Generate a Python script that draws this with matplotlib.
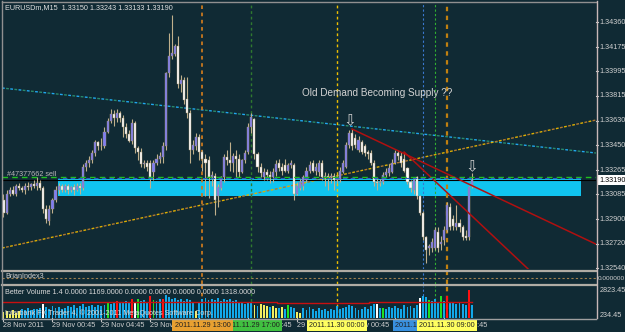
import numpy as np
import matplotlib
matplotlib.use('Agg')
import matplotlib.pyplot as plt
from matplotlib.patches import Rectangle
from matplotlib.lines import Line2D
from matplotlib.transforms import blended_transform_factory as blend

plt.rcParams['font.family'] = ['Liberation Sans', 'DejaVu Sans']

# EURUSDm M15, bar 0 = 28 Nov 2011 20:45
opens = [1.3304, 1.3295, 1.3309, 1.3312, 1.3309, 1.3315, 1.3313, 1.3312, 1.3315, 1.3314,
         1.3316, 1.3315, 1.3317, 1.3313, 1.3298, 1.3289, 1.3298, 1.3304, 1.3312, 1.3315,
         1.3312, 1.3315, 1.3312, 1.3314, 1.3312, 1.3315, 1.3313, 1.3329, 1.3332, 1.3334,
         1.3339, 1.3347, 1.3344, 1.3344, 1.3355, 1.3363, 1.3368, 1.3365, 1.3369, 1.3365,
         1.3358, 1.3353, 1.3348, 1.3361, 1.3343, 1.3340, 1.3331, 1.3332, 1.3332, 1.3325,
         1.3332, 1.3335, 1.3336, 1.3344, 1.3398, 1.3411, 1.3412, 1.3418, 1.3390, 1.3393,
         1.3379, 1.3369, 1.3341, 1.3344, 1.3351, 1.3340, 1.3335, 1.3334, 1.3321, 1.3322,
         1.3307, 1.3313, 1.3321, 1.3336, 1.3334, 1.3332, 1.3337, 1.3335, 1.3325, 1.3334,
         1.3340, 1.3358, 1.3364, 1.3338, 1.3329, 1.3321, 1.3325, 1.3323, 1.3321, 1.3325,
         1.3332, 1.3329, 1.3330, 1.3326, 1.3330, 1.3330, 1.3309, 1.3313, 1.3315, 1.3319,
         1.3326, 1.3332, 1.3326, 1.3325, 1.3332, 1.3321, 1.3322, 1.3321, 1.3322, 1.3319,
         1.3319, 1.3325, 1.3329, 1.3345, 1.3354, 1.3350, 1.3341, 1.3347, 1.3344, 1.3340,
         1.3339, 1.3332, 1.3318, 1.3317, 1.3318, 1.3323, 1.3324, 1.3325, 1.3332, 1.3339,
         1.3337, 1.3335, 1.3328, 1.3318, 1.3312, 1.3321, 1.3307, 1.3295, 1.3277, 1.3269,
         1.3269, 1.3269, 1.3281, 1.3272, 1.3275, 1.3282, 1.3299, 1.3290, 1.3284, 1.3287,
         1.3284, 1.3278, 1.3277, 1.33150]
highs = [1.3309, 1.3312, 1.3314, 1.3315, 1.3316, 1.3317, 1.3315, 1.3317, 1.3318, 1.3317,
         1.3319, 1.3321, 1.3319, 1.3315, 1.3301, 1.3301, 1.3306, 1.3315, 1.3317, 1.3316,
         1.3316, 1.3316, 1.3315, 1.3316, 1.3317, 1.3317, 1.3331, 1.3334, 1.3337, 1.3341,
         1.3349, 1.3348, 1.3350, 1.3358, 1.3365, 1.3372, 1.3371, 1.3372, 1.3370, 1.3367,
         1.3361, 1.3356, 1.3364, 1.3363, 1.3344, 1.3343, 1.3334, 1.3334, 1.3334, 1.3334,
         1.3338, 1.3340, 1.3347, 1.3399, 1.3428, 1.3441, 1.3420, 1.3426, 1.3397, 1.3395,
         1.3395, 1.3371, 1.3349, 1.3354, 1.3353, 1.3341, 1.3338, 1.3337, 1.3326, 1.3324,
         1.3316, 1.3322, 1.3338, 1.3341, 1.3347, 1.3339, 1.3341, 1.3338, 1.3335, 1.3341,
         1.3361, 1.3369, 1.3365, 1.3340, 1.3332, 1.3328, 1.3327, 1.3326, 1.3328, 1.3334,
         1.3335, 1.3332, 1.3335, 1.3332, 1.3334, 1.3332, 1.3318, 1.3320, 1.3323, 1.3329,
         1.3333, 1.3334, 1.3332, 1.3334, 1.3334, 1.3325, 1.3324, 1.3324, 1.3324, 1.3323,
         1.3329, 1.3334, 1.3347, 1.3356, 1.3357, 1.3353, 1.3352, 1.3349, 1.3346, 1.3341,
         1.3341, 1.3334, 1.3321, 1.3320, 1.3325, 1.3328, 1.3331, 1.3335, 1.3341, 1.3341,
         1.3340, 1.3340, 1.3329, 1.3319, 1.3321, 1.3322, 1.3308, 1.3296, 1.3278, 1.3272,
         1.3276, 1.3284, 1.3284, 1.3278, 1.3285, 1.3303, 1.3302, 1.3293, 1.3301, 1.3290,
         1.3286, 1.3282, 1.3315, 1.33243]
lows = [1.3292, 1.3294, 1.3307, 1.3308, 1.3307, 1.3312, 1.3310, 1.3309, 1.3312, 1.3312,
        1.3313, 1.3312, 1.3312, 1.3295, 1.3287, 1.3286, 1.3295, 1.3303, 1.3309, 1.3310,
        1.3310, 1.3309, 1.3310, 1.3308, 1.3311, 1.3309, 1.3312, 1.3326, 1.3329, 1.3332,
        1.3337, 1.3341, 1.3341, 1.3343, 1.3354, 1.3361, 1.3359, 1.3362, 1.3362, 1.3351,
        1.3350, 1.3347, 1.3346, 1.3339, 1.3334, 1.3329, 1.3328, 1.3326, 1.3313, 1.3319,
        1.3330, 1.3332, 1.3332, 1.3341, 1.3395, 1.3409, 1.3411, 1.3387, 1.3384, 1.3375,
        1.3365, 1.3332, 1.3338, 1.3341, 1.3334, 1.3326, 1.3307, 1.3306, 1.3315, 1.3293,
        1.3299, 1.3312, 1.3318, 1.3330, 1.3326, 1.3325, 1.3321, 1.3321, 1.3324, 1.3332,
        1.3338, 1.3354, 1.3335, 1.3325, 1.3321, 1.3319, 1.3319, 1.3317, 1.3318, 1.3322,
        1.3326, 1.3323, 1.3325, 1.3324, 1.3328, 1.3304, 1.3308, 1.3312, 1.3312, 1.3318,
        1.3324, 1.3325, 1.3323, 1.3322, 1.3319, 1.3315, 1.3312, 1.3317, 1.3312, 1.3317,
        1.3318, 1.3324, 1.3328, 1.3343, 1.3341, 1.3343, 1.3340, 1.3338, 1.3337, 1.3335,
        1.3330, 1.3315, 1.3312, 1.3315, 1.3316, 1.3321, 1.3322, 1.3324, 1.3331, 1.3334,
        1.3329, 1.3325, 1.3316, 1.3310, 1.3309, 1.3305, 1.3293, 1.3275, 1.3258, 1.3264,
        1.3266, 1.3267, 1.3266, 1.3267, 1.3271, 1.3281, 1.3282, 1.3282, 1.3282, 1.3281,
        1.3275, 1.3275, 1.3275, 1.33133]
closes = [1.3295, 1.3309, 1.3312, 1.3309, 1.3315, 1.3313, 1.3312, 1.3315, 1.3314, 1.3316,
          1.3315, 1.3317, 1.3313, 1.3298, 1.3290, 1.3298, 1.3304, 1.3312, 1.3315, 1.3312,
          1.3315, 1.3312, 1.3314, 1.3312, 1.3315, 1.3313, 1.3329, 1.3332, 1.3334, 1.3339,
          1.3347, 1.3344, 1.3344, 1.3355, 1.3363, 1.3368, 1.3365, 1.3369, 1.3365, 1.3358,
          1.3353, 1.3348, 1.3361, 1.3343, 1.3340, 1.3331, 1.3332, 1.3329, 1.3321, 1.3332,
          1.3335, 1.3337, 1.3344, 1.3398, 1.3411, 1.3413, 1.3418, 1.3390, 1.3393, 1.3378,
          1.3369, 1.3341, 1.3345, 1.3351, 1.3340, 1.3335, 1.3332, 1.3321, 1.3323, 1.3304,
          1.3314, 1.3321, 1.3336, 1.3334, 1.3332, 1.3337, 1.3335, 1.3325, 1.3334, 1.3339,
          1.3358, 1.3366, 1.3338, 1.3329, 1.3324, 1.3325, 1.3323, 1.3321, 1.3325, 1.3331,
          1.3328, 1.3326, 1.3326, 1.3330, 1.3332, 1.3309, 1.3315, 1.3318, 1.3321, 1.3326,
          1.3330, 1.3326, 1.3329, 1.3332, 1.3321, 1.3322, 1.3321, 1.3322, 1.3319, 1.3321,
          1.3326, 1.3332, 1.3345, 1.3354, 1.3344, 1.3345, 1.3349, 1.3340, 1.3339, 1.3338,
          1.3332, 1.3318, 1.3317, 1.3318, 1.3323, 1.3325, 1.3328, 1.3332, 1.3339, 1.3337,
          1.3332, 1.3326, 1.3318, 1.3313, 1.3319, 1.3307, 1.3295, 1.3277, 1.3267, 1.3270,
          1.3273, 1.3282, 1.3269, 1.3273, 1.3282, 1.3301, 1.3284, 1.3285, 1.3287, 1.3284,
          1.3277, 1.3276, 1.3314, 1.33190]

# Better Volume 1.4 values and bar type (y=low, b=normal, w=climax up, r=climax, g=churn)
volumes = [600, 700, 450, 800, 550, 700, 900, 850, 1000, 800, 900, 950, 1000, 1450,
           1100, 950, 1200, 1000, 1150, 900, 1050, 1250, 1100, 1300, 1000, 1200, 1400, 1150,
           1250, 1300, 1100, 1350, 1200, 1300, 1500, 1400, 1600, 1750, 1550, 1500, 1700, 1600,
           1900, 1500, 1950, 1700, 1850, 1650, 2200, 1800, 1750, 1900, 1950,
           2300, 2100, 1900, 2000, 1850, 1950, 1750, 1900, 1800, 1500, 700, 1600,
           1900, 2000, 1800, 1950, 1850, 2050, 1700, 1900, 1800, 1950, 1700, 1800, 1500, 1600,
           1400, 1650, 1500, 1350, 1200, 1400, 1300, 1250, 1100, 1200, 1050, 1000, 1150, 900,
           1300, 1100, 1000, 600, 500,
           1000, 800, 1100, 900, 750, 1050, 850, 950, 700, 900, 800, 1200, 900, 1000, 1100,
           1300, 1250, 1000, 850, 950, 1150, 900, 1250, 1400, 1400, 1000, 1000,
           900, 1100, 1000, 1200, 1050, 950, 1300, 1100, 1250, 1000, 1350,
           2000, 2200, 2100, 1800, 1700, 1900, 1600, 2200, 1700, 2200,
           1500, 1600, 1400, 1500, 1450, 1350, 2823, 1350]
vol_kind = ('yyyyyy' + 'bbbbbbb' + 'w' + 'b' * 20 + 'g' + 'bb' + 'r' + 'bbbb' + 'r' + 'w' + 'g'
            + 'bbb' + 'r' + 'g' + 'bb' + 'r' + 'b' * 9 + 'byb' + 'b' * 17 + 'ybyyybyybyb' + 'g'
            + 'bb' + 'yy' + 'b' * 24 + 'w' + 'b' + 'g' + 'b' * 11 + 'w' + 'bb' + 'g' + 'bbb'
            + 'g' + 'b' + 'r' + 'b' * 6 + 'r' + 'b')
vol_avg = [1650] * 40 + [1600] * 50 + [1560] * 30 + [1610] * 34

price_ticks = [1.34360, 1.34175, 1.33995, 1.33815, 1.33630, 1.33450,
               1.33265, 1.33085, 1.32900, 1.32720, 1.32540]
time_labels = ['28 Nov 2011', '29 Nov 00:45', '29 Nov 04:45', '29 Nov 08:45', '29 Nov 12:45',
               '29 Nov 16:45', '29 Nov 20:45', '30 Nov 00:45', '30 Nov 04:45', '30 Nov 08:45']
time_label_bars = [0, 16, 32, 48, 64, 80, 96, 112, 128, 144]

# vertical lines: bar, label, line colour, label colour, width (list order = draw order)
vline_bars = [81, 65, 109, 141, 137, 145]
vline_labels = ['2011.11.29 17:00', '2011.11.29 13:00', '2011.11.30 00:00',
                '2011.11.30 08:00', '2011.11.30 07:00', '2011.11.30 09:00']
vline_colors = ['#2f7a2f', '#c8781e', '#f0c000', '#30b030', '#3a78d0', '#c08010']
vline_box = ['#40c040', '#e8a030', '#ffff60', '#40c040', '#3890e0', '#ffff60']
vline_width = [1.0, 1.3, 1.0, 0.8, 0.8, 1.6]

# drawn objects (bar index, price)
cyan_line = ([-0.5, 193.6], [1.33872, 1.33391])
gold_line = ([-0.5, 193.6], [1.32688, 1.33635])
red_line1 = ([113.9, 193.6], [1.33568, 1.32717])
red_line2 = ([130.9, 180.0], [1.33398, 1.32350])
zone_bars = [17.8, 188.7]
zone_prices = [1.3307, 1.3320]
order_price = 1.33213
bid_price = 1.33190
arrow_bars = [113, 153]
arrow_prices = [1.3363, 1.3329]
note_pos = (97.5, 1.33835)

BG = '#102a34'
FS = 5.2
W, H = 625, 332
fig = plt.figure(figsize=(W / 100, H / 100), dpi=100)
fig.patch.set_facecolor(BG)


def axes_px(x0, y0, x1, y1):
    a = fig.add_axes([x0 / W, 1 - y1 / H, (x1 - x0) / W, (y1 - y0) / H])
    a.set_facecolor(BG)
    a.set_xticks([])
    a.set_yticks([])
    for s in a.spines.values():
        s.set_visible(False)
    a.set_xlim(-0.49, 193.6)
    return a


ax = axes_px(2, 2, 596, 269)
ax.set_ylim(1.32533, 1.34508)
ax_bi = axes_px(2, 272, 596, 284)
ax_bi.set_ylim(-1, 1)
ax_vol = axes_px(2, 286, 596, 318)
ax_vol.set_ylim(0, 3227)

idx = np.arange(len(closes))
o = np.array(opens)
c = np.array(closes)

# supply/demand zone
ax.add_patch(Rectangle((zone_bars[0], zone_prices[0]), zone_bars[1] - zone_bars[0],
                       zone_prices[1] - zone_prices[0], color='#10c4f0', lw=0, zorder=1))

# candles
ax.vlines(idx, lows, highs, color='#c0b08c', lw=0.8, zorder=3)
ax.bar(idx, np.maximum(np.abs(c - o), 0.00004), bottom=np.minimum(o, c), width=0.68,
       color=np.where(c >= o, '#7c7cf4', '#ffffff'), edgecolor='#a89470', linewidth=0.3, zorder=4)

# lines on the price chart
ax.plot(*cyan_line, color='#20a8f0', lw=1, ls=(0, (2, 4)), zorder=2)
ax.plot(*cyan_line, color='#2a8a6a', lw=1, ls=(3, (2, 4)), zorder=2)
ax.plot(*gold_line, color='#e0b000', lw=1, ls=(0, (2, 4)), zorder=2)
ax.plot(*gold_line, color='#b07830', lw=1, ls=(3, (2, 4)), zorder=2)
ax.plot(*red_line1, color='#b01010', lw=1.1, zorder=5)
ax.plot(*red_line2, color='#b01010', lw=1.1, zorder=5)
ax.axhline(order_price, color='#20c020', lw=1, ls=(0, (4, 3)), zorder=5)
ax.plot(zone_bars, [zone_prices[1] + 0.00003] * 2, color='#2a60c0', lw=0.8, ls=(3, (4, 3)), zorder=5)
ax.axhline(bid_price, color='black', lw=0.8, zorder=2)

for b, p in zip(arrow_bars, arrow_prices):
    ax.text(b, p, '\u21e9', ha='center', va='center', fontsize=11, color='#d0d0d0',
            family='DejaVu Sans', zorder=6)
ax.text(*note_pos, 'Old Demand Becoming Supply ??', fontsize=7.2, color='#d4d4d4',
        va='center', zorder=6)

# vertical lines through all windows
for b, col, lw in zip(vline_bars, vline_colors, vline_width):
    for a in (ax, ax_bi, ax_vol):
        a.axvline(b, color=col, lw=lw, ls=(0, (2, 2)), zorder=2)

# price scale
tr = blend(ax.transAxes, ax.transData)
for p in price_ticks:
    ax.plot([1, 1 + 2 / 594], [p, p], transform=tr, clip_on=False, color='#c8c8c8', lw=0.8)
    ax.text(1 + 3.5 / 594, p, f'{p:.5f}', transform=tr, fontsize=FS, color='#d0d0d0',
            va='center', clip_on=False)
ax.text(1 + 3 / 594, bid_price, f'{bid_price:.5f}', transform=tr, fontsize=FS, color='black',
        va='center', clip_on=False, zorder=8,
        bbox=dict(facecolor='white', edgecolor='none', pad=0.9))

fig.text(5 / W, 1 - 8 / H, 'EURUSDm,M15  1.33150 1.33243 1.33133 1.33190', fontsize=FS,
         color='#e0e0e0', va='center')
fig.text(7 / W, 1 - 174 / H, '#47377662 sell', fontsize=FS, color='#b8b8b8', va='center')

# BrianIndex3 window
ax_bi.axhline(0, color='#a08050', lw=0.8, ls=(0, (2, 2)))
fig.text(5 / W, 1 - 277 / H, 'BrianIndex3', fontsize=FS, color='#d0d0d0', va='center')
fig.text(597.5 / W, 1 - 278 / H, '0.000000', fontsize=4.6, color='#d0d0d0', va='center')

# Better Volume window
vol_colors = {'y': '#f4f060', 'b': '#12a8ea', 'w': '#ffffff', 'r': '#ff1010', 'g': '#20e020'}
ax_vol.bar(idx, volumes, width=0.62, color=[vol_colors[k] for k in vol_kind], lw=0, zorder=3)
ax_vol.plot(idx, vol_avg, drawstyle='steps-mid', color='#c81010', lw=1, zorder=4)
fig.text(5 / W, 1 - 293 / H,
         'Better Volume 1.4 0.0000 1169.0000 0.0000 0.0000 0.0000 0.0000 1318.0000',
         fontsize=FS, color='#d8d8d8', va='center', zorder=10)
fig.text(5 / W, 1 - 313 / H, 'Interbank FX Trader 4, \u00a9 2001-2011 MetaQuotes Software Corp.',
         fontsize=FS, color='#d8d8d8', va='center', zorder=10)
trv = blend(ax_vol.transAxes, ax_vol.transData)
for v in (2823.45, 234.45):
    ax_vol.text(1 + 3.5 / 594, v, f'{v:.2f}', transform=trv, fontsize=FS, color='#d0d0d0',
                va='center', clip_on=False)

# time scale
trt = blend(ax_vol.transData, ax_vol.transAxes)
for b, lab in zip(time_label_bars, time_labels):
    ax_vol.plot([b, b], [0, -0.1], transform=trt, clip_on=False, color='#c8c8c8', lw=0.8)
    ax_vol.text(b, -0.22, lab, transform=trt, fontsize=FS, color='#d0d0d0', va='center',
                clip_on=False)
for k, (b, lab, bc) in enumerate(zip(vline_bars, vline_labels, vline_box)):
    ax_vol.text(b, -0.22, lab, transform=trt, fontsize=FS, color='#202020', va='center',
                ha='center', clip_on=False, zorder=10 + k,
                bbox=dict(facecolor=bc, edgecolor='none', pad=1.6))

# frame and window separators
for y, col, lw in [(1.5, '#909090', 1), (270.5, '#b0aca4', 1.6), (285, '#b0aca4', 1.6),
                   (318.5, '#a0a0a0', 1)]:
    fig.add_artist(Line2D([2 / W, 596 / W], [1 - y / H] * 2, color=col, lw=lw))
fig.add_artist(Line2D([2 / W] * 2, [1 - 1 / H, 1 - 318 / H], color='#909090', lw=1))
fig.add_artist(Line2D([596.5 / W] * 2, [1 - 1 / H, 1 - 318 / H], color='#c8b8b8', lw=1))

fig.savefig('out.png', dpi=100, facecolor=BG)
